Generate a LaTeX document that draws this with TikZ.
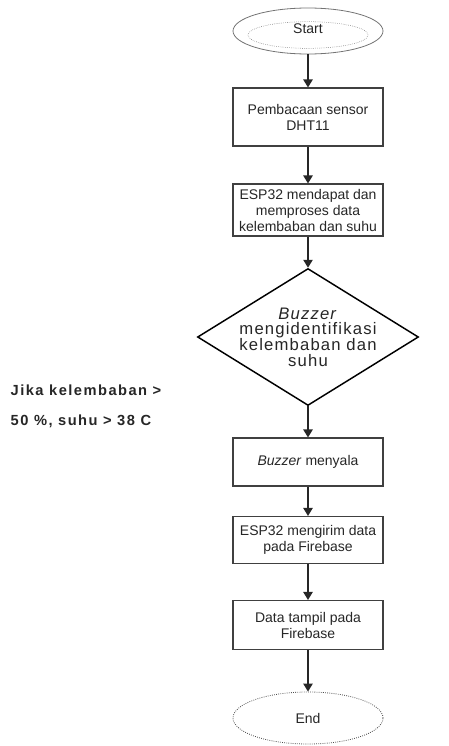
\documentclass[tikz,border=0pt]{standalone}
\usepackage{fontspec}
\setmainfont{Liberation Sans}
\usetikzlibrary{shapes.geometric,arrows.meta}

\begin{document}
\begin{tikzpicture}[x=0.75pt,y=-0.75pt,
        every node/.style={font=\fontsize{10.5}{12}\selectfont, text=black!85},
        proc/.style={draw=black!75, line width=0.8pt, rectangle, minimum width=112.5pt, align=center, inner sep=2pt},
        term/.style={draw=black!55, line width=0.6pt, ellipse, minimum width=112.5pt, align=center},
        decide/.style={draw=black, line width=1.1pt, diamond, minimum width=165.75pt, minimum height=102.75pt, inner sep=0pt},
        wide/.style={font=\fontsize{12.5}{11.8}\selectfont\addfontfeature{LetterSpace=7}, align=center},
        cond/.style={anchor=west, font=\bfseries\fontsize{11}{13}\selectfont\addfontfeature{LetterSpace=10}},
        flow/.style={->, line width=1.1pt, black!85},
        >={Triangle[length=6pt,width=7pt]}]
    \useasboundingbox (0,0) rectangle (449,746);
    % Terminals
    \node[term, minimum height=34.5pt] (start) at (308,31) {};
    \draw[densely dotted, black!60] (308,35) ellipse [x radius=45pt, y radius=10pt];
    \node (starttxt) at (308,29) {Start};
    \node[term, minimum height=39pt, densely dotted, draw=black!70] (end) at (308,718) {End};
    % Steps
    \node[proc, minimum height=43.5pt] (baca) at (308,117) {Pembacaan sensor\\DHT11};
    \node[proc, minimum height=39pt] (olah) at (308,210) {ESP32 mendapat dan\\memproses data\\kelembaban dan suhu};
    \node[decide] (cek) at (308,337) {};
    \node[wide] (cektxt) at (308,337) {\textit{Buzzer}\\mengidentifikasi\\kelembaban dan\\suhu};
    \node[proc, minimum height=36pt] (nyala) at (308,462) {\textit{Buzzer} menyala};
    \node[proc, minimum height=35.25pt] (kirim) at (308,540) {ESP32 mengirim data\\pada Firebase};
    \node[proc, minimum height=36.75pt] (tampil) at (308,625) {Data tampil pada\\Firebase};
    % Condition
    \node[cond] (syarat1) at (6,390) {Jika kelembaban >};
    \node[cond] (syarat2) at (6,421) {50 \%, suhu > 38 C};
    % Arrows
    \draw[flow] (start) -- (baca);
    \draw[flow] (baca) -- (olah);
    \draw[flow] (olah) -- (cek);
    \draw[flow] (cek) -- (nyala);
    \draw[flow] (nyala) -- (kirim);
    \draw[flow] (kirim) -- (tampil);
    \draw[flow] (tampil) -- (end);
\end{tikzpicture}
\end{document}
